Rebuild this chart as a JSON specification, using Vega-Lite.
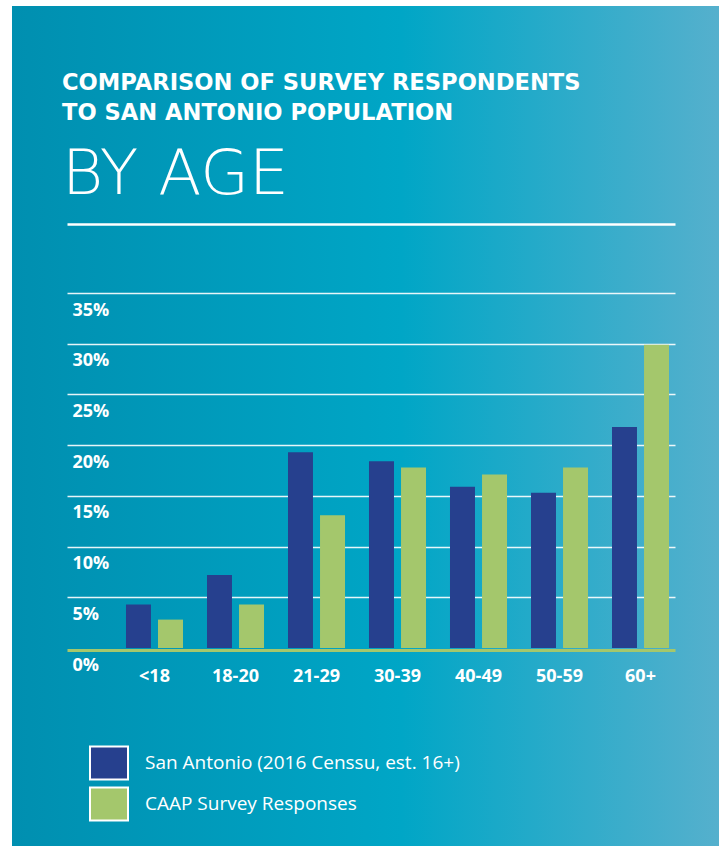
{
  "$schema": "https://vega.github.io/schema/vega-lite/v6.json",
  "width": 719,
  "height": 846,
  "autosize": {"type": "fit", "contains": "padding"},
  "padding": {"left": 12, "top": 6, "right": 0, "bottom": 0},
  "background": "white",
  "view": {
    "stroke": null,
    "fill": {
      "gradient": "linear",
      "x1": 0, "y1": 0, "x2": 1, "y2": 0,
      "stops": [
        {"offset": 0, "color": "#008fb0"},
        {"offset": 0.55, "color": "#00a6c6"},
        {"offset": 1, "color": "#55b0cd"}
      ]
    }
  },
  "title": {
    "text": ["COMPARISON OF SURVEY RESPONDENTS", "TO SAN ANTONIO POPULATION"],
    "subtitle": "BY AGE",
    "anchor": "start",
    "frame": "group",
    "orient": "top",
    "offset": -201,
    "dx": 50,
    "font": "DejaVu Sans",
    "fontSize": 22.6,
    "fontWeight": "bold",
    "color": "white",
    "lineHeight": 30,
    "subtitleFont": "DejaVu Sans",
    "subtitleFontSize": 63,
    "subtitleFontWeight": 200,
    "subtitleColor": "white",
    "subtitlePadding": 19
  },
  "data": {
    "values": [
      {"age": "<18", "series": "San Antonio (2016 Censsu, est. 16+)", "value": 4.3},
      {"age": "<18", "series": "CAAP Survey Responses", "value": 2.8},
      {"age": "18-20", "series": "San Antonio (2016 Censsu, est. 16+)", "value": 7.2},
      {"age": "18-20", "series": "CAAP Survey Responses", "value": 4.3},
      {"age": "21-29", "series": "San Antonio (2016 Censsu, est. 16+)", "value": 19.3},
      {"age": "21-29", "series": "CAAP Survey Responses", "value": 13.1},
      {"age": "30-39", "series": "San Antonio (2016 Censsu, est. 16+)", "value": 18.4},
      {"age": "30-39", "series": "CAAP Survey Responses", "value": 17.8},
      {"age": "40-49", "series": "San Antonio (2016 Censsu, est. 16+)", "value": 15.9},
      {"age": "40-49", "series": "CAAP Survey Responses", "value": 17.1},
      {"age": "50-59", "series": "San Antonio (2016 Censsu, est. 16+)", "value": 15.3},
      {"age": "50-59", "series": "CAAP Survey Responses", "value": 17.8},
      {"age": "60+", "series": "San Antonio (2016 Censsu, est. 16+)", "value": 21.8},
      {"age": "60+", "series": "CAAP Survey Responses", "value": 29.9}
    ]
  },
  "layer": [
    {
      "mark": {"type": "bar"},
      "encoding": {
        "x": {
          "field": "age",
          "type": "nominal",
          "sort": ["<18", "18-20", "21-29", "30-39", "40-49", "50-59", "60+"],
          "scale": {"range": [55, 663], "paddingInner": 0.296, "paddingOuter": 0.401, "align": 0.908},
          "axis": {
            "orient": "bottom",
            "offset": -196,
            "title": null,
            "domain": true,
            "domainColor": "#a4c76c",
            "domainWidth": 3,
            "ticks": false,
            "tickSize": 0,
            "labelPadding": 26,
            "labelBaseline": "middle",
            "labelAngle": 0,
            "labelFont": "Open Sans",
            "labelFontSize": 18,
            "labelFontWeight": "bold",
            "labelColor": "white",
            "grid": false,
            "zindex": 1
          }
        },
        "xOffset": {
          "field": "series",
          "type": "nominal",
          "sort": ["San Antonio (2016 Censsu, est. 16+)", "CAAP Survey Responses"],
          "scale": {"paddingInner": 0.22, "paddingOuter": 0}
        },
        "y": {
          "field": "value",
          "type": "quantitative",
          "scale": {"domain": [0, 35], "range": [642, 287], "nice": false},
          "axis": {
            "orient": "left",
            "values": [0, 5, 10, 15, 20, 25, 30, 35],
            "title": null,
            "domain": false,
            "ticks": false,
            "tickSize": 0,
            "labelAlign": "left",
            "labelPadding": -60,
            "labelOffset": 17,
            "labelBaseline": "middle",
            "labelExpr": "datum.value + '%'",
            "labelFont": "Open Sans",
            "labelFontSize": 18,
            "labelFontWeight": "bold",
            "labelColor": "white",
            "grid": true,
            "gridColor": "white",
            "gridWidth": 1.5,
            "gridOpacity": {"condition": {"test": "datum.value === 0", "value": 0}, "value": 0.9}
          }
        },
        "color": {
          "field": "series",
          "type": "nominal",
          "sort": ["San Antonio (2016 Censsu, est. 16+)", "CAAP Survey Responses"],
          "scale": {
            "domain": ["San Antonio (2016 Censsu, est. 16+)", "CAAP Survey Responses"],
            "range": ["#26408e", "#a4c76c"]
          },
          "legend": {
            "orient": "none",
            "legendX": 77,
            "legendY": 737,
            "title": null,
            "direction": "vertical",
            "padding": 0,
            "symbolType": "M-1,-0.868L1,-0.868L1,0.868L-1,0.868Z",
            "symbolSize": 1444,
            "symbolStrokeColor": "white",
            "symbolStrokeWidth": 2,
            "symbolOpacity": 1,
            "labelFont": "Open Sans",
            "labelFontSize": 19,
            "labelColor": "white",
            "labelOffset": 16,
            "labelLimit": 500,
            "rowPadding": -3
          }
        }
      }
    },
    {
      "mark": {"type": "text", "text": ""},
      "encoding": {
        "x": {
          "field": "age",
          "type": "nominal",
          "sort": ["<18", "18-20", "21-29", "30-39", "40-49", "50-59", "60+"],
          "axis": {
            "orient": "top",
            "offset": -218,
            "title": null,
            "domain": true,
            "domainColor": "white",
            "domainWidth": 2.5,
            "ticks": false,
            "labels": false,
            "grid": false
          }
        }
      }
    }
  ],
  "resolve": {"axis": {"x": "independent"}}
}
